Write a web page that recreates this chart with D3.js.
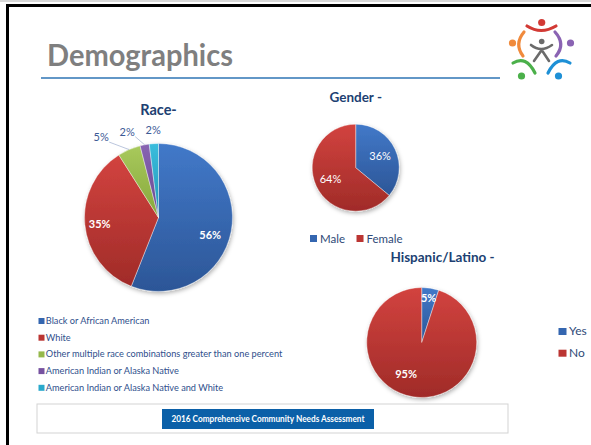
<!DOCTYPE html>
<html><head><meta charset="utf-8">
<script src="https://cdn.jsdelivr.net/npm/d3@7"></script>
<style>html,body{margin:0;padding:0;background:#fff;}svg{display:block;}</style>
</head><body>
<script>
// ---- data ----
const raceCategories = ["Black or African American","White","Other multiple race combinations greater than one percent","American Indian or Alaska Native","American Indian or Alaska Native and White"];
const raceValues = [56, 35, 5, 2, 2];
const genderCategories = ["Male","Female"];
const genderValues = [36, 64];
const hispanicCategories = ["Yes","No"];
const hispanicValues = [5, 95];
const pageTitle = "Demographics";
const footerText = "2016 Comprehensive Community Needs Assessment";

const W = 591, H = 445;
const svg = d3.select("body").append("svg").attr("width", W).attr("height", H);
const defs = svg.append("defs");

const palette = [
  {id:"blue", top:"#4279c9", bot:"#2c5697", solid:"#3466b0"},
  {id:"red", top:"#d2433f", bot:"#a02b28", solid:"#bb3532"},
  {id:"green", top:"#a8c95c", bot:"#86a73b", solid:"#95b84b"},
  {id:"purple", top:"#8864b2", bot:"#684891", solid:"#7652a0"},
  {id:"cyan", top:"#3abddd", bot:"#2296b6", solid:"#2aa9cc"}
];
palette.forEach(p => {
  const g = defs.append("linearGradient").attr("id", "g-" + p.id).attr("x1", 0).attr("y1", 0).attr("x2", 0).attr("y2", 1);
  g.append("stop").attr("offset", "0%").attr("stop-color", p.top);
  g.append("stop").attr("offset", "100%").attr("stop-color", p.bot);
});
const f = defs.append("filter").attr("id", "shadow").attr("x", "-20%").attr("y", "-20%").attr("width", "140%").attr("height", "140%");
f.append("feDropShadow").attr("dx", 1).attr("dy", 2).attr("stdDeviation", 2).attr("flood-color", "#000").attr("flood-opacity", 0.3);

// ---- frame ----
svg.append("line").attr("x1", 0).attr("x2", W).attr("y1", 1).attr("y2", 1).attr("stroke", "#d8d8d8").attr("stroke-width", 2);
svg.append("line").attr("x1", 6).attr("x2", W).attr("y1", 5.5).attr("y2", 5.5).attr("stroke", "#000").attr("stroke-width", 3);
svg.append("line").attr("x1", 7.5).attr("x2", 7.5).attr("y1", 4).attr("y2", H).attr("stroke", "#000").attr("stroke-width", 3);

// ---- title ----
svg.append("text").attr("x", 47).attr("y", 66).text(pageTitle)
  .attr("font-family", "Lato, 'Open Sans', sans-serif").attr("font-weight", 700).attr("font-size", 30)
  .attr("fill", "#7f7f7f").attr("textLength", 186).attr("lengthAdjust", "spacingAndGlyphs");
svg.append("line").attr("x1", 41).attr("x2", 500).attr("y1", 78).attr("y2", 78).attr("stroke", "#2e74b5").attr("stroke-width", 1.3);

// ---- logo ----
const logo = svg.append("g").attr("fill", "none").attr("stroke-linecap", "round");
logo.append("path").attr("d", "M527,26 Q541,35 556,26").attr("stroke", "#d23a35").attr("stroke-width", 3.2);
logo.append("circle").attr("cx", 541.7).attr("cy", 22.5).attr("r", 3.6).attr("fill", "#d23a35");
logo.append("path").attr("d", "M524,32 Q514,44 523,56").attr("stroke", "#f08a3c").attr("stroke-width", 3.2);
logo.append("circle").attr("cx", 512.5).attr("cy", 43).attr("r", 3.6).attr("fill", "#f08a3c");
logo.append("path").attr("d", "M555,32 Q566,44 556,56").attr("stroke", "#8a63b3").attr("stroke-width", 3.2);
logo.append("circle").attr("cx", 570.5).attr("cy", 43).attr("r", 3.6).attr("fill", "#8a63b3");
logo.append("path").attr("d", "M513,63 Q526,55 535,73").attr("stroke", "#4bb04a").attr("stroke-width", 3.2);
logo.append("circle").attr("cx", 521.5).attr("cy", 76).attr("r", 3.6).attr("fill", "#4bb04a");
logo.append("path").attr("d", "M570,63 Q557,55 548,73").attr("stroke", "#1e90d6").attr("stroke-width", 3.2);
logo.append("circle").attr("cx", 558.5).attr("cy", 76).attr("r", 3.6).attr("fill", "#1e90d6");
logo.append("circle").attr("cx", 541.7).attr("cy", 41.5).attr("r", 2.8).attr("fill", "#6b6b6b");
logo.append("path").attr("d", "M531,45 Q541,53 552,45 M541.7,50 L534,61 M541.7,50 L549,61").attr("stroke", "#6b6b6b").attr("stroke-width", 2.6);

const font = "Lato, 'Open Sans', sans-serif";
const titleColor = "#203f72";

function drawPie(opt) {
  const pie = d3.pie().sort(null).startAngle(0).endAngle(2 * Math.PI);
  const arcs = pie(opt.values);
  const arc = d3.arc().innerRadius(0).outerRadius(opt.r);
  const g = svg.append("g").attr("transform", `translate(${opt.cx},${opt.cy})`);
  const slices = g.append("g").attr("filter", "url(#shadow)");
  slices.selectAll("path").data(arcs).join("path")
    .attr("d", arc)
    .attr("fill", (d, i) => `url(#g-${palette[i].id})`)
    .attr("stroke", "#fff").attr("stroke-width", 0.4);
  const fmt = v => Math.round(v) + "%";
  arcs.forEach((d, i) => {
    if (opt.outside && opt.outside(d)) return;
    const mid = (d.startAngle + d.endAngle) / 2 + ((opt.labelShift && opt.labelShift[i]) || 0) * Math.PI / 180;
    const rr = opt.r * (opt.labelR[i] || 0.7);
    g.append("text")
      .attr("x", Math.sin(mid) * rr).attr("y", -Math.cos(mid) * rr)
      .attr("dy", "0.35em").attr("text-anchor", "middle")
      .attr("font-family", font).attr("font-weight", opt.labelWeight).attr("font-size", opt.labelSize)
      .attr("fill", "#fff").text(fmt(d.data));
  });
  return {g, arcs, fmt};
}

// ---- Race ----
const race = {cx: 158.5, cy: 217.5, r: 74};
svg.append("text").attr("x", race.cx).attr("y", 115).attr("text-anchor", "middle")
  .attr("font-family", font).attr("font-weight", 700).attr("font-size", 14.5).attr("fill", titleColor).text("Race-");
const rp = drawPie({cx: race.cx, cy: race.cy, r: race.r, values: raceValues, labelR: [0.74, 0.8], labelShift: [8.5, -1.5],
  labelWeight: 700, labelSize: 11, outside: d => d.data < 10});
// outside labels for small slices
const small = rp.arcs.map((d, i) => ({d, i})).filter(o => o.d.data < 10);
small.forEach(o => {
  const mid = (o.d.startAngle + o.d.endAngle) / 2;
  o.mid = mid;
  o.x = Math.sin(mid) * race.r * 1.14;
  o.y = -Math.cos(mid) * race.r * 1.14;
  o.pushed = false;
});
for (let k = small.length - 2; k >= 0; k--) {
  if (small[k].x > small[k + 1].x - 26) { small[k].x = small[k + 1].x - 26; small[k].pushed = true; }
}
small.forEach(o => {
  if (o.pushed) {
    rp.g.append("line")
      .attr("x1", o.x + 8).attr("y1", o.y + 2)
      .attr("x2", Math.sin(o.mid) * race.r).attr("y2", -Math.cos(o.mid) * race.r)
      .attr("stroke", "#a9b8d4").attr("stroke-width", 0.8);
  }
  rp.g.append("text").attr("x", o.x).attr("y", o.y).attr("dy", "0.1em").attr("text-anchor", "middle")
    .attr("font-family", font).attr("font-size", 11).attr("fill", "#3c5a96").text(rp.fmt(o.d.data));
});
// race legend
const rl = svg.append("g").attr("font-family", font).attr("font-size", 9.2).attr("fill", "#2f4f8c");
raceCategories.forEach((c, i) => {
  const y = 324 + i * 16.7;
  rl.append("rect").attr("x", 38.5).attr("y", y - 6).attr("width", 6).attr("height", 6).attr("fill", palette[i].solid);
  rl.append("text").attr("x", 45.8).attr("y", y).text(c);
});

// ---- Gender ----
const gen = {cx: 355.7, cy: 167.7, r: 43.5};
svg.append("text").attr("x", gen.cx).attr("y", 101.5).attr("text-anchor", "middle")
  .attr("font-family", font).attr("font-weight", 700).attr("font-size", 13.5).attr("fill", titleColor).text("Gender -");
drawPie({cx: gen.cx, cy: gen.cy, r: gen.r, values: genderValues, labelR: [0.62, 0.64], labelWeight: 400, labelSize: 11});
const gl = svg.append("g").attr("font-family", font).attr("font-size", 11.5).attr("fill", "#2f4a78");
let gx = 310;
genderCategories.forEach((c, i) => {
  gl.append("rect").attr("x", gx).attr("y", 235).attr("width", 7).attr("height", 7).attr("fill", palette[i].solid);
  const t = gl.append("text").attr("x", gx + 10).attr("y", 242.5).text(c);
  gx = gx + 10 + t.node().getComputedTextLength() + 11.5;
});

// ---- Hispanic ----
const his = {cx: 421.7, cy: 342.5, r: 55};
svg.append("text").attr("x", 442.5).attr("y", 261.5).attr("text-anchor", "middle")
  .attr("font-family", font).attr("font-weight", 700).attr("font-size", 13.5).attr("fill", titleColor).text("Hispanic/Latino -");
drawPie({cx: his.cx, cy: his.cy, r: his.r, values: hispanicValues, labelR: [0.81, 0.65], labelShift: [0, 17], labelWeight: 700, labelSize: 11});
const hl = svg.append("g").attr("font-family", font).attr("font-size", 12).attr("fill", "#2f4a78");
hispanicCategories.forEach((c, i) => {
  const y = 335 + i * 21.7;
  hl.append("rect").attr("x", 558.5).attr("y", y - 7).attr("width", 8).attr("height", 7).attr("fill", palette[i].solid);
  hl.append("text").attr("x", 569).attr("y", y).text(c);
});

// ---- footer ----
svg.append("rect").attr("x", 37).attr("y", 404).attr("width", 471).attr("height", 29)
  .attr("fill", "#fff").attr("stroke", "#d3d3d3").attr("stroke-width", 1);
svg.append("rect").attr("x", 162).attr("y", 409).attr("width", 212).attr("height", 20).attr("fill", "#0b60a8");
svg.append("text").attr("x", 268).attr("y", 422).attr("text-anchor", "middle")
  .attr("font-family", font).attr("font-weight", 700).attr("font-size", 8.5).attr("fill", "#fff")
  .attr("textLength", 193).attr("lengthAdjust", "spacingAndGlyphs").text(footerText);
</script>
</body></html>
